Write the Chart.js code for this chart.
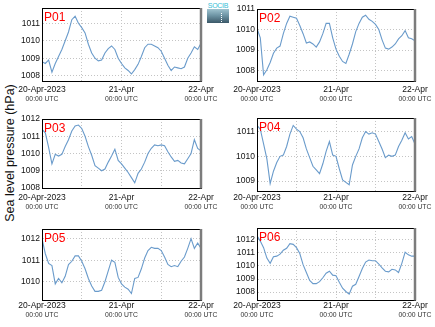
<!DOCTYPE html>
<html>
<head>
<meta charset="utf-8">
<script src="https://cdn.jsdelivr.net/npm/chart.js@4.4.0/dist/chart.umd.min.js"></script>
<style>
body { margin: 0; background: #fff; width: 435px; height: 327px; overflow: hidden; position: relative; font-family: "Liberation Sans", Arial, sans-serif; }
.panel { position: absolute; }
#ytitle { position: absolute; left: 10px; top: 153px; transform: translate(-50%, -50%) rotate(-90deg); font-size: 12.5px; color: #111; white-space: nowrap; }
#logo { position: absolute; left: 207px; top: 2px; width: 22px; height: 21px; }
#logo .txt { font-size: 7px; line-height: 7px; color: #36bdd6; letter-spacing: -0.3px; text-align: center; }
#logo .box { width: 22px; height: 14px; background: linear-gradient(#9fc3cf, #6f96a6 45%, #3b5868); position: relative; }
#logo .box i { position: absolute; left: 14px; top: 4px; height: 9px; border-left: 1px dotted #fff; }
</style>
</head>
<body>
<div id="ytitle">Sea level pressure (hPa)</div>
<div id="logo"><div class="txt">SOCIB</div><div class="box"><i></i></div></div>
<script>
// hours since 20-Apr-2023 00:00 UTC
const hours = [0,1,2,3,4,5,6,7,8,9,10,11,12,13,14,15,16,17,18,19,20,21,22,23,24,
               25,26,27,28,29,30,31,32,33,34,35,36,37,38,39,40,41,42,43,44,45,46,47,48];
const xGrid = [0, 12, 24, 36, 48];
const xLabelHours = [0, 24, 48];
const xLabelDates = ['20-Apr-2023', '21-Apr', '22-Apr'];
const xLabelTime = '00:00 UTC';

const p01 = [1008.8,1008.7,1008.9,1008.2,1008.7,1009.1,1009.5,1010.0,1010.5,1011.2,1011.4,1011.0,1010.75,
             1010.45,1009.8,1009.3,1009.0,1008.85,1008.9,1009.3,1009.55,1009.7,1009.5,1009.0,1008.7,
             1008.45,1008.3,1008.1,1008.35,1008.65,1009.1,1009.6,1009.8,1009.8,1009.7,1009.6,1009.4,
             1009.0,1008.6,1008.3,1008.5,1008.45,1008.4,1008.5,1009.0,1009.3,1009.65,1009.5,1009.85];
const p02 = [1010.05,1009.6,1007.8,1008.05,1008.4,1008.85,1009.1,1009.2,1009.8,1010.3,1010.65,1010.6,1010.55,
             1010.2,1009.8,1009.35,1009.4,1009.3,1009.15,1009.4,1009.8,1010.3,1010.3,1009.6,1009.05,
             1008.7,1008.45,1008.35,1008.8,1009.3,1009.9,1010.3,1010.6,1010.7,1010.5,1010.4,1010.25,
             1010.0,1009.5,1009.1,1009.05,1009.15,1009.3,1009.55,1009.7,1009.95,1009.6,1009.55,1009.45];
const p03 = [1011.4,1011.2,1010.35,1009.4,1009.95,1009.85,1009.95,1010.4,1010.8,1011.3,1011.6,1011.65,1011.45,
             1011.0,1010.4,1009.9,1009.3,1009.15,1009.0,1009.1,1009.5,1009.85,1010.25,1009.6,1009.4,
             1009.15,1008.9,1008.6,1008.3,1008.85,1009.1,1009.5,1010.0,1010.3,1010.5,1010.45,1010.5,
             1010.45,1010.1,1009.8,1009.55,1009.6,1009.45,1009.4,1009.7,1010.0,1010.8,1010.3,1010.15];
const p04 = [1011.25,1011.1,1010.5,1009.9,1008.9,1009.4,1009.75,1010.0,1010.05,1010.4,1010.9,1011.25,1011.1,
             1011.0,1010.75,1010.3,1009.95,1009.6,1009.45,1009.3,1009.7,1010.2,1010.6,1010.05,1010.0,
             1009.5,1009.05,1008.95,1008.85,1009.65,1010.0,1010.3,1010.75,1011.0,1010.9,1010.95,1010.9,
             1010.6,1010.3,1009.95,1010.05,1010.0,1010.05,1010.4,1010.65,1010.95,1010.7,1010.8,1010.5];
const p05 = [1012.0,1011.3,1010.85,1010.75,1009.9,1010.15,1009.95,1010.25,1010.8,1010.95,1011.2,1011.2,1010.95,
             1010.6,1010.15,1009.8,1009.55,1009.55,1009.6,1010.0,1010.5,1011.0,1010.9,1010.2,1009.9,
             1009.75,1009.65,1009.45,1010.15,1010.2,1010.6,1011.1,1011.45,1011.6,1011.55,1011.55,1011.45,
             1011.15,1010.8,1010.7,1010.75,1010.7,1010.95,1011.15,1011.55,1012.0,1011.55,1011.8,1011.55];
const p06 = [1012.3,1011.9,1011.4,1010.6,1010.2,1010.7,1010.75,1010.9,1011.2,1011.35,1011.7,1011.65,1011.4,
             1010.95,1010.1,1009.5,1008.9,1008.65,1008.65,1008.8,1009.1,1009.45,1009.6,1009.3,1009.25,
             1008.75,1008.3,1008.05,1007.85,1008.45,1008.6,1009.2,1009.8,1010.3,1010.45,1010.4,1010.4,
             1010.15,1009.85,1009.6,1009.55,1009.75,1009.7,1009.5,1010.2,1011.05,1010.85,1010.75,1010.75];

const p01Ticks = [1008, 1009, 1010, 1011];
const p02Ticks = [1008, 1009, 1010, 1011];
const p03Ticks = [1008, 1009, 1010, 1011, 1012];
const p04Ticks = [1009, 1010, 1011];
const p05Ticks = [1010, 1011, 1012];
const p06Ticks = [1008, 1009, 1010, 1011, 1012];

// plot box (page px) and y range of each panel
const panels = [
  { name: 'P01', data: p01, ticks: p01Ticks, min: 1007.7,  max: 1011.87, L: 42,  T: 8,   R: 201, B: 81,  lab: 89.5 },
  { name: 'P02', data: p02, ticks: p02Ticks, min: 1007.5,  max: 1011.0,  L: 257, T: 9,   R: 415, B: 81,  lab: 89.5 },
  { name: 'P03', data: p03, ticks: p03Ticks, min: 1008.0,  max: 1012.0,  L: 42,  T: 119, R: 201, B: 188, lab: 197.5 },
  { name: 'P04', data: p04, ticks: p04Ticks, min: 1008.6,  max: 1011.55, L: 257, T: 118, R: 415, B: 191, lab: 197.5 },
  { name: 'P05', data: p05, ticks: p05Ticks, min: 1009.15, max: 1012.45, L: 42,  T: 229, R: 201, B: 300, lab: 305.5 },
  { name: 'P06', data: p06, ticks: p06Ticks, min: 1007.4,  max: 1012.9,  L: 257, T: 228, R: 415, B: 300, lab: 305.5 }
];

const FONT = '"Liberation Sans", Arial, sans-serif';

panels.forEach(p => {
  const ox = p.L - 42, oy = p.T - 8;
  const w = p.R - p.L + 42 + 24;
  const h = Math.round(p.lab + 16 - oy);
  const div = document.createElement('div');
  div.className = 'panel';
  div.style.left = ox + 'px';
  div.style.top = oy + 'px';
  const cv = document.createElement('canvas');
  cv.width = w; cv.height = h;
  div.appendChild(cv);
  document.body.appendChild(div);

  const frame = {
    id: 'frame',
    afterDraw(chart) {
      const a = chart.chartArea, c = chart.ctx;
      const l = Math.round(a.left) + 0.5, t = Math.round(a.top) + 0.5, r = Math.round(a.right);
      c.save();
      c.strokeStyle = '#000';
      c.lineWidth = 1;
      c.beginPath();
      c.moveTo(l, a.bottom); c.lineTo(l, t); c.lineTo(r, t);
      c.stroke();
      c.strokeStyle = '#7c7c7c';
      c.lineWidth = 2.5;
      c.beginPath();
      c.moveTo(r, a.top); c.lineTo(r, a.bottom + 0.5);
      c.stroke();

      c.fillStyle = '#ff0000';
      c.font = '12px ' + FONT;
      c.textBaseline = 'alphabetic';
      c.fillText(p.name, a.left + 2, a.top + 12.5);

      const xs = chart.scales.x;
      c.textAlign = 'center';
      c.textBaseline = 'middle';
      xLabelHours.forEach((hr, i) => {
        const x = xs.getPixelForValue(hr);
        c.fillStyle = '#111';
        c.font = '8.5px ' + FONT;
        c.fillText(xLabelDates[i], x, p.lab - oy);
        c.fillStyle = '#333';
        c.font = '6.8px ' + FONT;
        c.fillText(xLabelTime, x, p.lab + 9.5 - oy);
      });
      c.restore();
    }
  };

  new Chart(cv, {
    type: 'line',
    data: {
      datasets: [{
        data: p.data.map((v, i) => ({ x: hours[i], y: v })),
        borderColor: '#6a9bcb',
        borderWidth: 1.1,
        pointRadius: 0,
        tension: 0,
        fill: false
      }]
    },
    options: {
      responsive: false,
      animation: false,
      layout: { padding: { top: 8, right: 24, left: 0, bottom: 0 } },
      plugins: { legend: { display: false }, tooltip: { enabled: false } },
      scales: {
        x: {
          type: 'linear', min: 0, max: 48,
          afterBuildTicks: s => { s.ticks = xGrid.map(v => ({ value: v })); },
          afterFit: s => { s.height = h - 8 - (p.B - p.T); },
          ticks: { display: false },
          grid: { color: '#c4c4c4', drawTicks: false },
          border: { color: '#000', width: 1, dash: [1, 2] }
        },
        y: {
          min: p.min, max: p.max,
          afterBuildTicks: s => { s.ticks = p.ticks.map(v => ({ value: v })); },
          afterFit: s => { s.width = 42; },
          ticks: { font: { family: FONT, size: 8.5 }, color: '#111', padding: 2, callback: v => String(v) },
          grid: { color: '#c4c4c4', drawTicks: false },
          border: { color: '#000', width: 1, dash: [1, 2] }
        }
      }
    },
    plugins: [frame]
  });
});
</script>
</body>
</html>
